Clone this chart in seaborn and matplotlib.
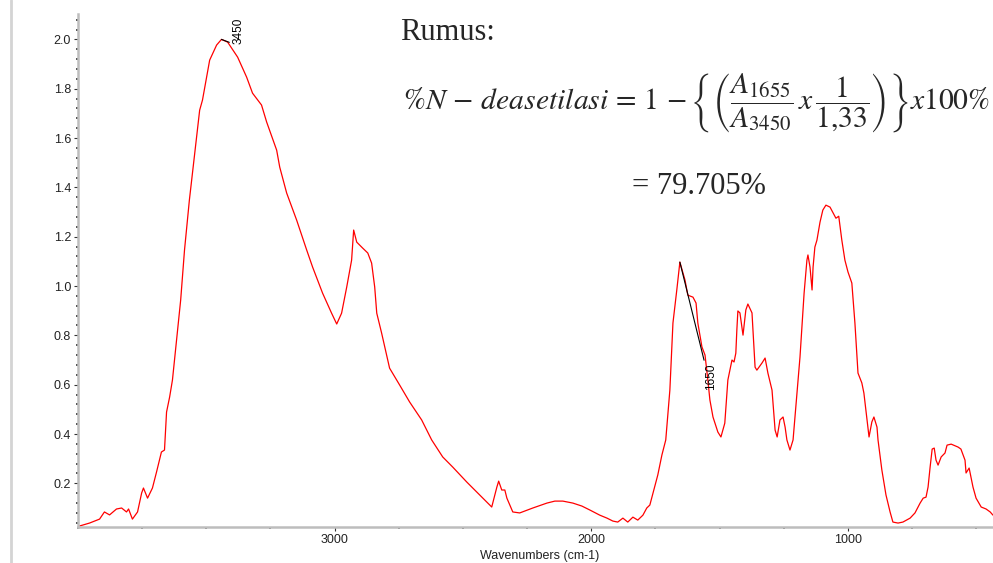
import numpy as np
import matplotlib
matplotlib.use('Agg')
import matplotlib.pyplot as plt
import seaborn as sns
from matplotlib.lines import Line2D
from matplotlib.ticker import MultipleLocator

# FTIR spectrum (wavenumber cm-1, absorbance)
wavenumber = [3994, 3955, 3916, 3897, 3877, 3850, 3830, 3811, 3803, 3788,
              3768, 3752, 3745, 3729, 3710, 3694, 3675, 3663, 3655, 3643,
              3632, 3600, 3585, 3566, 3526, 3515, 3487, 3460, 3441, 3417,
              3378, 3343, 3320, 3285, 3265, 3226, 3214, 3187, 3148, 3109,
              3086, 3047, 3012, 2992, 2973, 2953, 2934, 2926, 2914, 2891,
              2871, 2856, 2844, 2836, 2817, 2786, 2747, 2708, 2661, 2622,
              2579, 2540, 2485, 2435, 2388, 2368, 2361, 2349, 2337, 2329,
              2306, 2279, 2228, 2173, 2142, 2111, 2072, 2037, 2006, 1967,
              1939, 1916, 1897, 1877, 1858, 1838, 1819, 1799, 1784, 1772,
              1741, 1725, 1710, 1694, 1682, 1667, 1655, 1635, 1624, 1604,
              1592, 1585, 1569, 1557, 1546, 1538, 1526, 1507, 1495, 1480,
              1468, 1452, 1444, 1437, 1433, 1429, 1421, 1409, 1398, 1390,
              1374, 1362, 1355, 1335, 1323, 1312, 1296, 1284, 1276, 1265,
              1253, 1245, 1238, 1226, 1214, 1187, 1171, 1160, 1156, 1148,
              1140, 1136, 1129, 1121, 1109, 1098, 1086, 1070, 1055, 1047,
              1036, 1024, 1012, 1000, 985, 973, 961, 946, 938, 926,
              918, 907, 899, 887, 883, 868, 852, 836, 825, 805,
              786, 758, 739, 719, 707, 696, 688, 680, 672, 664,
              657, 649, 637, 622, 614, 598, 571, 560, 544, 540,
              528, 524, 513, 501, 481, 462, 446, 435]
absorbance = [0.027, 0.039, 0.055, 0.084, 0.072, 0.096, 0.100, 0.084, 0.096, 0.055,
              0.084, 0.161, 0.181, 0.140, 0.181, 0.246, 0.327, 0.335, 0.489, 0.550,
              0.619, 0.943, 1.146, 1.349, 1.713, 1.754, 1.916, 1.977, 2.000, 1.989,
              1.928, 1.847, 1.782, 1.734, 1.665, 1.551, 1.482, 1.377, 1.267, 1.146,
              1.077, 0.971, 0.890, 0.846, 0.890, 0.996, 1.105, 1.227, 1.178, 1.154,
              1.134, 1.093, 0.996, 0.890, 0.809, 0.667, 0.599, 0.530, 0.457, 0.376,
              0.307, 0.266, 0.205, 0.153, 0.104, 0.185, 0.209, 0.173, 0.173, 0.140,
              0.084, 0.080, 0.100, 0.120, 0.128, 0.128, 0.120, 0.108, 0.092, 0.071,
              0.059, 0.047, 0.043, 0.059, 0.043, 0.063, 0.051, 0.071, 0.100, 0.112,
              0.234, 0.315, 0.376, 0.578, 0.850, 0.984, 1.097, 1.024, 0.963, 0.955,
              0.931, 0.850, 0.753, 0.720, 0.619, 0.538, 0.469, 0.408, 0.388, 0.444,
              0.619, 0.700, 0.692, 0.728, 0.822, 0.899, 0.891, 0.801, 0.903, 0.927,
              0.891, 0.671, 0.659, 0.688, 0.708, 0.647, 0.578, 0.416, 0.388, 0.457,
              0.469, 0.428, 0.376, 0.335, 0.376, 0.712, 0.971, 1.105, 1.126, 1.077,
              0.984, 1.077, 1.158, 1.186, 1.259, 1.308, 1.328, 1.320, 1.291, 1.275,
              1.283, 1.186, 1.105, 1.057, 1.012, 0.850, 0.647, 0.607, 0.566, 0.457,
              0.388, 0.449, 0.469, 0.428, 0.376, 0.254, 0.153, 0.084, 0.043, 0.039,
              0.043, 0.059, 0.080, 0.120, 0.140, 0.144, 0.185, 0.266, 0.339, 0.343,
              0.294, 0.274, 0.307, 0.323, 0.355, 0.359, 0.347, 0.339, 0.294, 0.242,
              0.262, 0.242, 0.185, 0.140, 0.104, 0.096, 0.084, 0.071]

peak_labels = [3450, 1650]
x_major = [1000, 2000, 3000]

sns.set_style('white')
plt.rcParams['font.family'] = ['Liberation Sans', 'DejaVu Sans']
plt.rcParams['mathtext.fontset'] = 'stix'

fig = plt.figure(figsize=(9.93, 5.63), dpi=100)
ax = fig.add_axes([78 / 993, 1 - 527 / 563, 1 - 78 / 993, (527 - 14) / 563])

df_x = np.array(wavenumber)
df_y = np.array(absorbance)
sns.lineplot(x=df_x, y=df_y, sort=False, estimator=None, color='#ff0000',
             linewidth=0.9, ax=ax)

ax.set_xlim(4000, 435)
ax.set_ylim(0.023, 2.103)

# axes look of the spectrometer software
for side in ['top', 'right']:
    ax.spines[side].set_visible(False)
for side in ['left', 'bottom']:
    ax.spines[side].set_color('#bdbdbd')
    ax.spines[side].set_linewidth(1.8)

ax.set_xticks(x_major)
ax.xaxis.set_minor_locator(MultipleLocator(250))
ax.yaxis.set_major_locator(MultipleLocator(0.2))
ax.yaxis.set_minor_locator(MultipleLocator(0.04))
ax.yaxis.set_major_formatter(matplotlib.ticker.FormatStrFormatter('%.1f'))
ax.tick_params(which='major', direction='out', length=3, width=0.8,
               color='#333333', labelsize=9, labelcolor='#222222', pad=2)
ax.tick_params(which='minor', direction='out', length=1.5, width=1.3,
               color='#444444')
ax.tick_params(axis='both', which='both', left=True, bottom=True)
ax.set_xlabel('')
ax.set_ylabel('')

# peak markers
for lab, dx, dy, va, rel in [(peak_labels[0], 8, -3, 'bottom', (0, 0)),
                              (peak_labels[1], 18, -73, 'top', (0, 1))]:
    near = np.abs(df_x - lab) <= 30
    idx = np.where(near)[0][np.argmax(df_y[near])]
    ax.annotate(str(lab), xy=(df_x[idx], df_y[idx]), xytext=(dx, dy),
                textcoords='offset points', rotation=90, ha='left', va=va,
                fontsize=8.5, color='black',
                arrowprops=dict(arrowstyle='-', color='black', lw=0.8,
                                shrinkA=0, shrinkB=0, relpos=rel))

fig.text(540 / 993, 1 - 550 / 563, 'Wavenumbers (cm-1)', ha='center', va='top',
         fontsize=9, color='#222222')

# formula text
fig.text(400 / 993, 1 - 32 / 563, 'Rumus:', ha='left', va='center',
         fontsize=22, family='Liberation Serif')
fig.text(403 / 993, 1 - 103 / 563,
         r'$\%N\,-\,deasetilasi\,=\,1\,-\left\{\left(\dfrac{A_{1655}}{A_{3450}}\,x\,'
         r'\dfrac{1}{1{,}33}\right)\right\}x100\%$',
         ha='left', va='center', fontsize=21.3)
fig.text(632 / 993, 1 - 187 / 563, '= 79.705%', ha='left', va='center',
         fontsize=22, family='Liberation Serif')

# left border of the screenshot window
fig.add_artist(Line2D([11 / 993, 11 / 993], [0, 1], color='#d4d4d4', lw=2))

fig.savefig('out.png', dpi=100)
